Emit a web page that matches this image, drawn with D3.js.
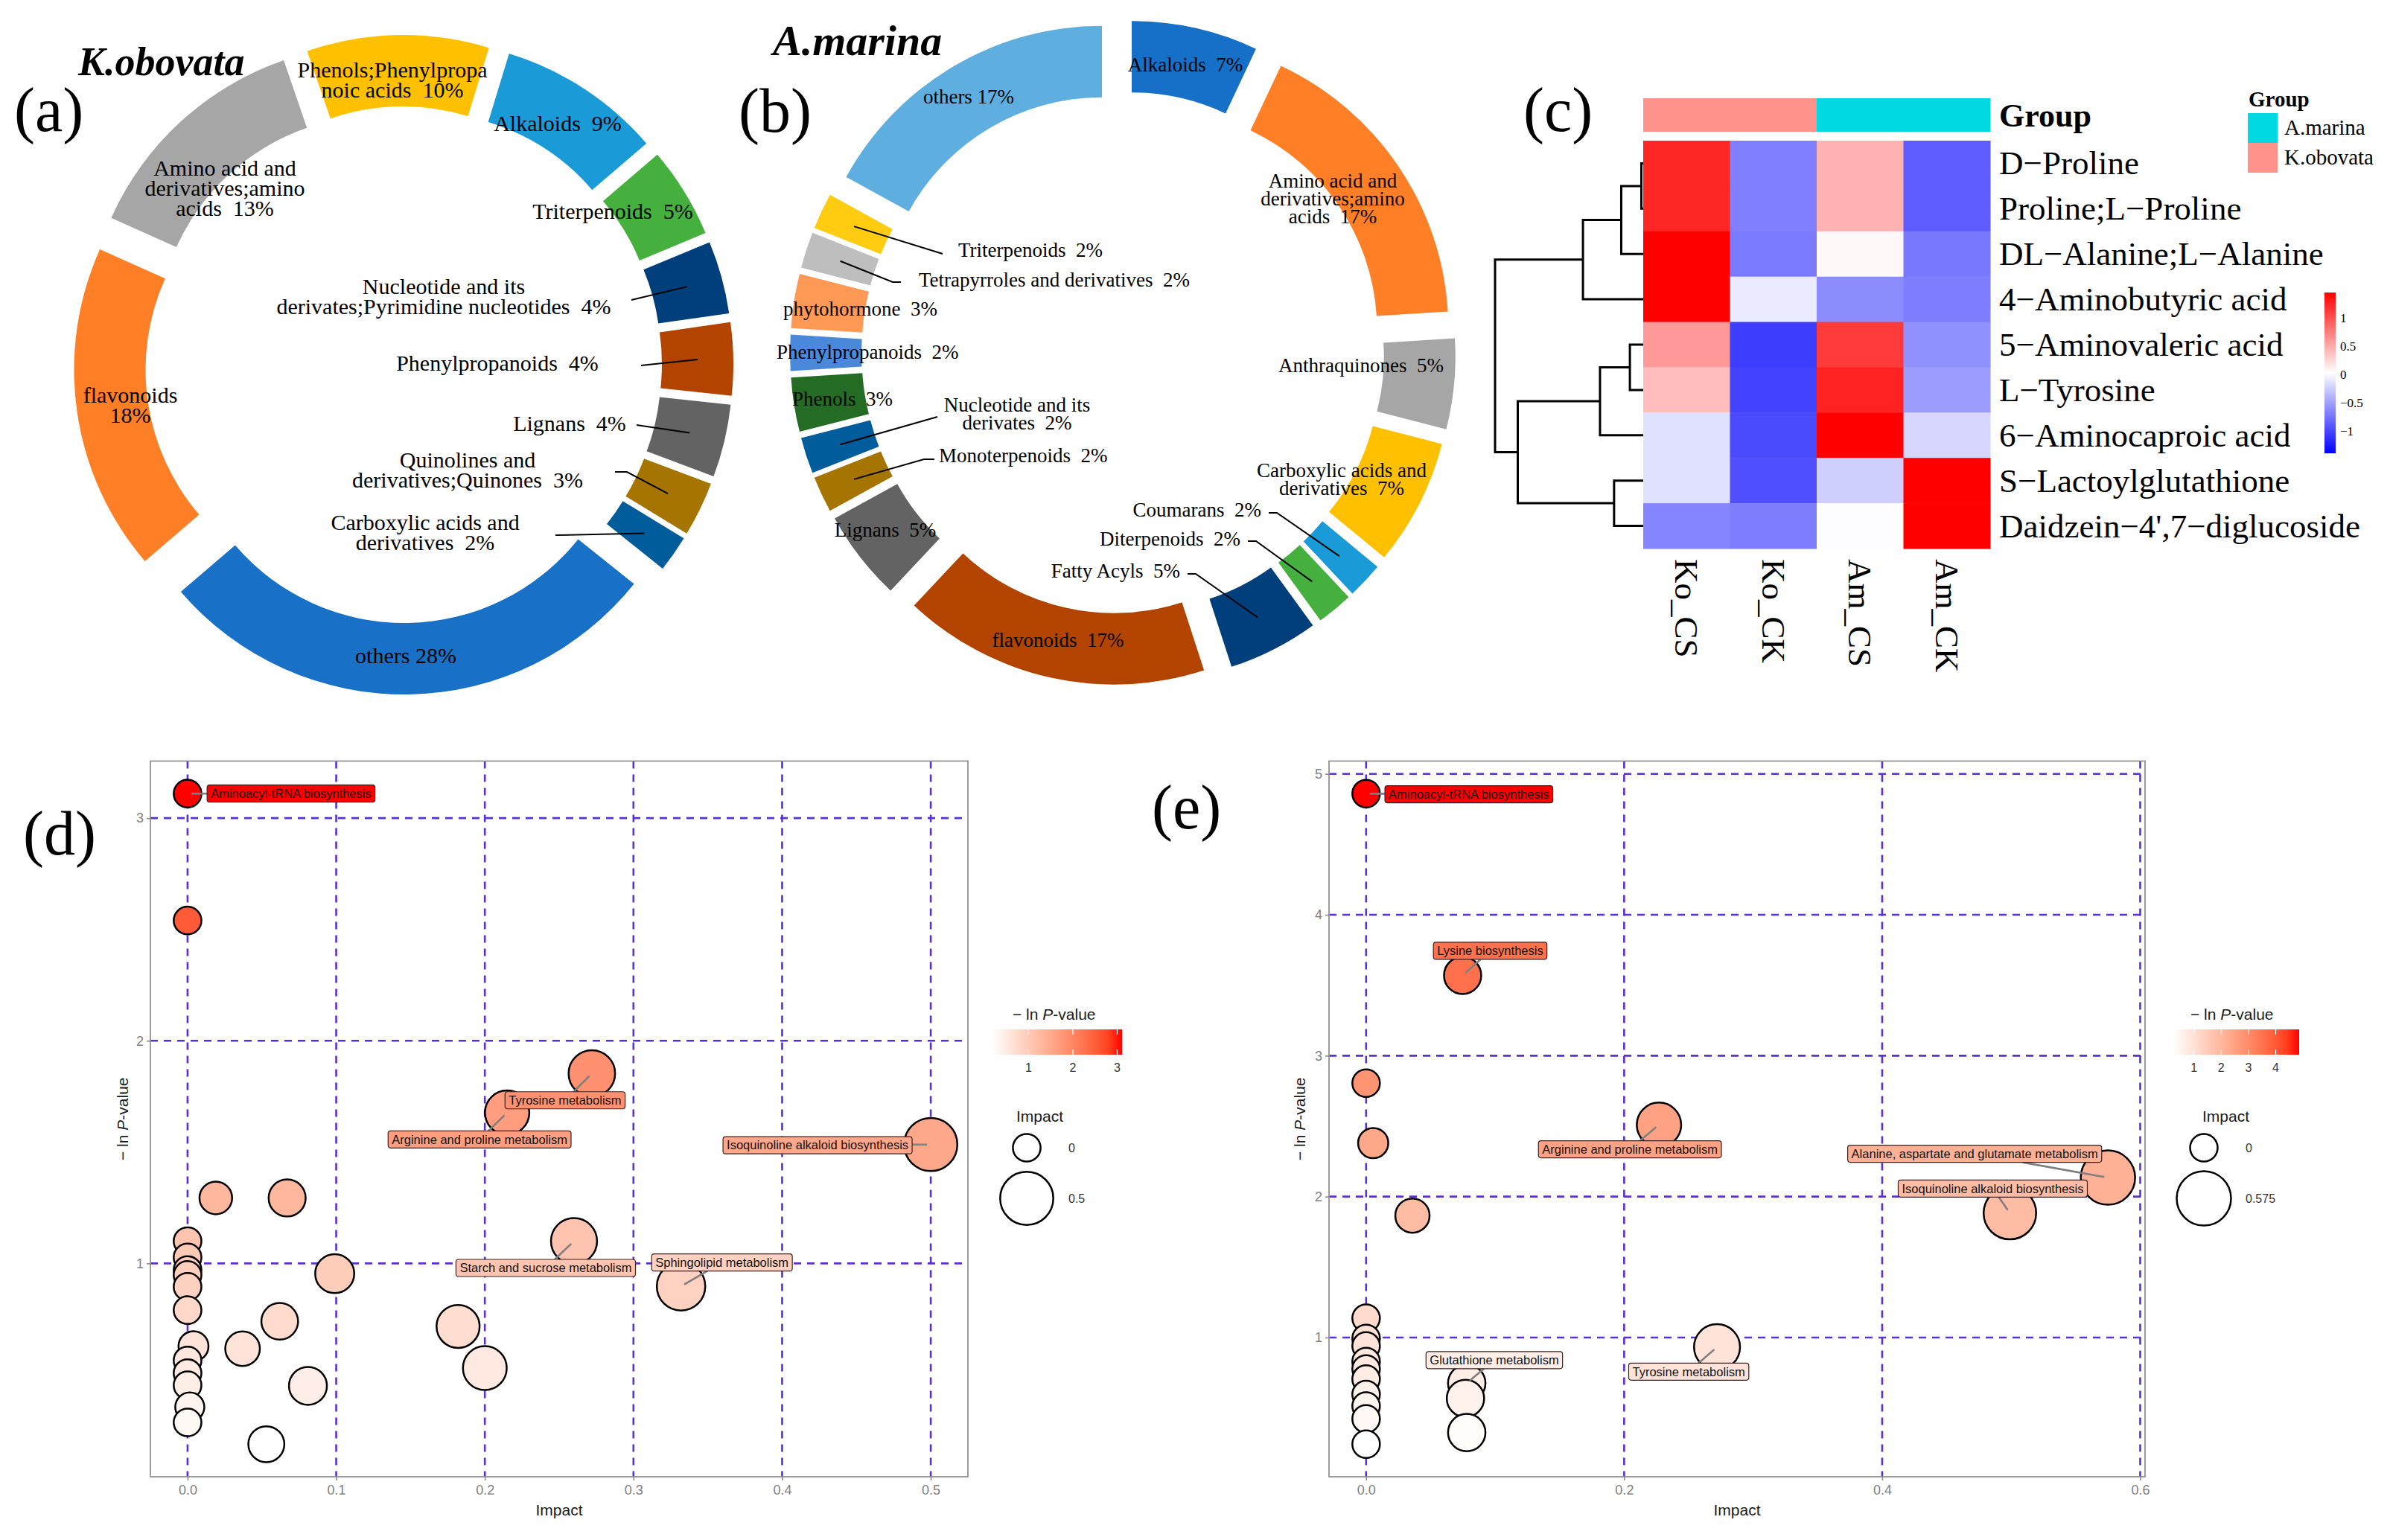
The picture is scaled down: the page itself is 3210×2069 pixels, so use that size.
<!DOCTYPE html>
<html>
<head>
<meta charset="utf-8">
<script src="https://cdn.jsdelivr.net/npm/d3@7"></script>
<style>
  html, body { margin: 0; padding: 0; background: #fff; }
  text { white-space: pre; }
</style>
</head>
<body>
<svg id="fig" width="3210" height="2069"></svg>
<script>
// ---------- (a) K.obovata classes (% of metabolites) ----------
const koClasses = ["Phenols;Phenylpropanoic acids", "Alkaloids", "Triterpenoids",
  "Nucleotide and its derivates;Pyrimidine nucleotides", "Phenylpropanoids", "Lignans",
  "Quinolines and derivatives;Quinones", "Carboxylic acids and derivatives", "others",
  "flavonoids", "Amino acid and derivatives;amino acids"];
const koPercent = [10, 9, 5, 4, 4, 4, 3, 2, 28, 18, 13];
const koLabelText = [
  ["Phenols;Phenylpropa", "noic acids  {p}%"],
  ["Alkaloids  {p}%"],
  ["Triterpenoids  {p}%"],
  ["Nucleotide and its", "derivates;Pyrimidine nucleotides  {p}%"],
  ["Phenylpropanoids  {p}%"],
  ["Lignans  {p}%"],
  ["Quinolines and", "derivatives;Quinones  {p}%"],
  ["Carboxylic acids and", "derivatives  {p}%"],
  ["others {p}%"],
  ["flavonoids", "{p}%"],
  ["Amino acid and", "derivatives;amino", "acids  {p}%"]
];

// ---------- (b) A.marina classes ----------
const amClasses = ["Alkaloids", "Amino acid and derivatives;amino acids", "Anthraquinones",
  "Carboxylic acids and derivatives", "Coumarans", "Diterpenoids", "Fatty Acyls", "flavonoids",
  "Lignans", "Monoterpenoids", "Nucleotide and its derivates", "Phenols", "Phenylpropanoids",
  "phytohormone", "Tetrapyrroles and derivatives", "Triterpenoids", "others"];
const amPercent = [7, 17, 5, 7, 2, 2, 5, 17, 5, 2, 2, 3, 2, 3, 2, 2, 17];
const amLabelText = [
  ["Alkaloids  {p}%"],
  ["Amino acid and", "derivatives;amino", "acids  {p}%"],
  ["Anthraquinones  {p}%"],
  ["Carboxylic acids and", "derivatives  {p}%"],
  ["Coumarans  {p}%"],
  ["Diterpenoids  {p}%"],
  ["Fatty Acyls  {p}%"],
  ["flavonoids  {p}%"],
  ["Lignans  {p}%"],
  ["Monoterpenoids  {p}%"],
  ["Nucleotide and its", "derivates  {p}%"],
  ["Phenols  {p}%"],
  ["Phenylpropanoids  {p}%"],
  ["phytohormone  {p}%"],
  ["Tetrapyrroles and derivatives  {p}%"],
  ["Triterpenoids  {p}%"],
  ["others {p}%"]
];

// ---------- (c) heatmap (row z-scores) ----------
const heatRows = ["D\u2212Proline", "Proline;L\u2212Proline", "DL\u2212Alanine;L\u2212Alanine",
  "4\u2212Aminobutyric acid", "5\u2212Aminovaleric acid", "L\u2212Tyrosine",
  "6\u2212Aminocaproic acid", "S\u2212Lactoylglutathione", "Daidzein\u22124',7\u2212diglucoside"];
const heatCols = ["Ko_CS", "Ko_CK", "Am_CS", "Am_CK"];
const heatColGroup = ["K.obovata", "K.obovata", "A.marina", "A.marina"];
const heatGroups = ["A.marina", "K.obovata"];
const heatValues = [
  [ 1.24, -0.68,  0.46, -0.88],
  [ 1.24, -0.68,  0.46, -0.88],
  [ 1.45, -0.71,  0.07, -0.72],
  [ 1.45, -0.08, -0.61, -0.69],
  [ 0.60, -1.05,  1.12, -0.59],
  [ 0.40, -1.02,  1.26, -0.52],
  [-0.14, -0.98,  1.45, -0.20],
  [-0.14, -0.95, -0.24,  1.45],
  [-0.65, -0.69,  0.02,  1.45]
];
const heatRange = [-1.39, 1.45];
const heatTicks = [1, 0.5, 0, -0.5, -1];
// row clustering (merge heights)
const rowTree = { h: 6.0, children: [
  { h: 2.44, children: [
    { h: 0.89, children: [ { h: 0.075, children: [ { leaf: 0 }, { leaf: 1 } ] }, { leaf: 2 } ] },
    { leaf: 3 } ] },
  { h: 5.08, children: [
    { h: 1.75, children: [ { h: 0.54, children: [ { leaf: 4 }, { leaf: 5 } ] }, { leaf: 6 } ] },
    { h: 1.18, children: [ { leaf: 7 }, { leaf: 8 } ] } ] }
] };

// ---------- (d) K.obovata pathway analysis ----------
const dImpact = [0, 0, 0.272, 0.215, 0.5, 0.019, 0.067, 0, 0, 0, 0, 0, 0, 0.26, 0.099, 0.332,
  0.062, 0.182, 0.004, 0.037, 0, 0, 0.2, 0, 0.081, 0.0015, 0, 0.053];
const dLnP = [3.11, 2.54, 1.853, 1.677, 1.534, 1.294, 1.294, 1.10, 1.027, 0.97, 0.948, 0.895, 0.79,
  1.10, 0.954, 0.897, 0.74, 0.717, 0.628, 0.617, 0.564, 0.507, 0.53, 0.453, 0.45, 0.355, 0.286, 0.188];
const dNames = ["Aminoacyl-tRNA biosynthesis", "", "Tyrosine metabolism", "Arginine and proline metabolism",
  "Isoquinoline alkaloid biosynthesis", "", "", "", "", "", "", "", "", "Starch and sucrose metabolism", "",
  "Sphingolipid metabolism", "", "", "", "", "", "", "", "", "", "", "", ""];
const dSizeBreaks = [0, 0.5];
const dColorTicks = [1, 2, 3];
const dXTicks = [0, 0.1, 0.2, 0.3, 0.4, 0.5];
const dYTicks = [1, 2, 3];

// ---------- (e) A.marina pathway analysis ----------
const eImpact = [0, 0.0748, 0, 0.0055, 0.227, 0.575, 0.499, 0.0359, 0, 0, 0, 0.272, 0, 0, 0, 0,
  0.078, 0.077, 0, 0, 0.078, 0];
const eLnP = [4.86, 3.57, 2.805, 2.38, 2.51, 2.135, 1.883, 1.865, 1.137, 0.993, 0.94, 0.932, 0.83,
  0.777, 0.705, 0.596, 0.676, 0.568, 0.514, 0.423, 0.326, 0.243];
const eNames = ["Aminoacyl-tRNA biosynthesis", "Lysine biosynthesis", "", "", "Arginine and proline metabolism",
  "Alanine, aspartate and glutamate metabolism", "Isoquinoline alkaloid biosynthesis", "", "", "", "",
  "Tyrosine metabolism", "", "", "", "", "Glutathione metabolism", "", "", "", "", ""];
const eSizeBreaks = [0, 0.575];
const eColorTicks = [1, 2, 3, 4];
const eXTicks = [0, 0.2, 0.4, 0.6];
const eYTicks = [1, 2, 3, 4, 5];

// ---------- styles ----------
const serif = "'Liberation Serif', 'Times New Roman', serif";
const sans = "'Liberation Sans', Arial, sans-serif";
const koColors = ["#FFC000", "#1A9BD7", "#45B03D", "#003F7B", "#B34400", "#636363", "#A67400",
  "#005C9A", "#1971C7", "#FF7F27", "#A6A6A6"];
const amColors = ["#1670C8", "#FF7F27", "#A6A6A6", "#FFC000", "#1A9BD7", "#45B03D", "#003F7B",
  "#B34400", "#636363", "#A67400", "#005C9A", "#246C24", "#4A89DA", "#FF9955", "#BEBEBE",
  "#FFCC11", "#5EAFE0"];
const groupColors = { "A.marina": "#00D9E1", "K.obovata": "#FF928A" };
const gridColor = "#5B30D5";

const svg = d3.select("#fig");
const defs = svg.append("defs");
svg.append("rect").attr("width", 3210).attr("height", 2069).attr("fill", "#fff");

// ---------- donuts ----------
const koLayout = {
  cx: 542, cy: 490, rOut: 395, rIn: 299, explode: 48, start: -19, fontSize: 30, lineH: 27,
  labels: [
    { at: [-15, -386] }, { at: [207, -314] }, { at: [281, -196] },
    { at: [54, -95], leader: [[306, -87]] },
    { at: [126, 8], leader: [[319, 1]] },
    { at: [223, 89], leader: [[313, 81]] },
    { at: [86, 138], leader: [[284, 144], [300, 144]] },
    { at: [29, 222], leader: [[204, 229]] },
    { at: [3, 401] }, { at: [-367, 51] }, { at: [-240, -254] }
  ]
};
const amLayout = {
  cx: 1508, cy: 474, rOut: 392, rIn: 296, explode: 55, start: 0, fontSize: 27, lineH: 24,
  labels: [
    { at: [84, -378] }, { at: [282, -222] }, { at: [320, 26] }, { at: [294, 167] },
    { at: [186, 220], anchor: "end", leader: [[196, 215], [207, 215]] },
    { at: [158, 259], anchor: "end", leader: [[168, 253], [179, 253]] },
    { at: [77, 302], anchor: "end", leader: [[87, 297], [98, 297]] },
    { at: [-87, 395] }, { at: [-319, 247] },
    { at: [-247, 147], anchor: "start", leader: [[-253, 143], [-267, 143]] },
    { at: [-142, 79], leader: [[-249, 86]] },
    { at: [-444, 71], anchor: "start" },
    { at: [-465, 8], anchor: "start" },
    { at: [-456, -50], anchor: "start" },
    { at: [-274, -89], anchor: "start", leader: [[-298, -95], [-309, -95]] },
    { at: [-221, -129], anchor: "start", leader: [[-242, -133]] },
    { at: [-207, -335] }
  ]
};

function drawDonut(values, colors, labelText, L) {
  const a0 = L.start * Math.PI / 180;
  const arcs = d3.pie().sort(null).value(d => d).startAngle(a0).endAngle(a0 + 2 * Math.PI)(values);
  const arc = d3.arc().innerRadius(L.rIn).outerRadius(L.rOut);
  const shift = a => {
    const m = (a.startAngle + a.endAngle) / 2;
    return [Math.sin(m) * L.explode, -Math.cos(m) * L.explode];
  };
  const g = svg.append("g").attr("transform", `translate(${L.cx},${L.cy})`);
  g.selectAll("path.slice").data(arcs).join("path")
    .attr("class", "slice")
    .attr("d", arc)
    .attr("fill", (d, i) => colors[i])
    .attr("transform", d => `translate(${shift(d)})`);

  arcs.forEach((a, i) => {
    const lab = L.labels[i];
    if (!lab.leader) return;
    const c = arc.centroid(a), s = shift(a);
    g.append("path")
      .attr("d", d3.line()([...lab.leader, [c[0] + s[0], c[1] + s[1]]]))
      .attr("fill", "none").attr("stroke", "#000").attr("stroke-width", 2);
  });

  L.labels.forEach((lab, i) => {
    const t = g.append("text")
      .attr("text-anchor", lab.anchor || "middle")
      .attr("font-family", serif).attr("font-size", L.fontSize).attr("fill", "#000");
    labelText[i].forEach((s, j) => {
      t.append("tspan").attr("x", lab.at[0]).attr("y", lab.at[1] + j * L.lineH)
        .text(s.replace("{p}", values[i]));
    });
  });
}
drawDonut(koPercent, koColors, koLabelText, koLayout);
drawDonut(amPercent, amColors, amLabelText, amLayout);

svg.append("text").attr("x", 105).attr("y", 101).attr("font-family", serif)
  .attr("font-size", 54).attr("font-weight", "bold").attr("font-style", "italic").text("K.obovata");
svg.append("text").attr("x", 1038).attr("y", 74).attr("font-family", serif)
  .attr("font-size", 58).attr("font-weight", "bold").attr("font-style", "italic").text("A.marina");

// ---------- panel letters ----------
[["(a)", 19, 176], ["(b)", 992, 177], ["(c)", 2046, 176], ["(d)", 31, 1148], ["(e)", 1547, 1113]]
  .forEach(([s, x, y]) => svg.append("text").attr("x", x).attr("y", y)
    .attr("font-family", serif).attr("font-size", 84).text(s));

// ---------- (c) heatmap ----------
(function () {
  const hm = { left: 2207, right: 2673, top: 189, bottom: 737, barTop: 132, barBottom: 177, dendLeft: 2008 };
  const xh = d3.scaleBand().domain(heatCols).range([hm.left, hm.right]);
  const yh = d3.scaleBand().domain(heatRows).range([hm.top, hm.bottom]);
  const mid = d3.mean(heatRange);
  const color = d3.scaleLinear().domain([heatRange[0], mid, heatRange[1]])
    .range(["#0000ff", "#ffffff", "#ff0000"]);
  const g = svg.append("g");

  // group annotation bar
  g.selectAll("rect.grp").data(heatCols).join("rect").attr("class", "grp")
    .attr("x", d => xh(d)).attr("y", hm.barTop)
    .attr("width", xh.bandwidth() + 0.5).attr("height", hm.barBottom - hm.barTop)
    .attr("fill", (d, i) => groupColors[heatColGroup[i]]);
  g.append("text").attr("x", hm.right + 12).attr("y", (hm.barTop + hm.barBottom) / 2 + 15)
    .attr("font-family", serif).attr("font-size", 44).attr("font-weight", "bold").text("Group");

  // cells
  heatValues.forEach((row, i) => {
    row.forEach((v, j) => {
      g.append("rect")
        .attr("x", xh(heatCols[j])).attr("y", yh(heatRows[i]))
        .attr("width", xh.bandwidth() + 0.5).attr("height", yh.bandwidth() + 0.5)
        .attr("fill", color(v));
    });
  });

  // row labels
  g.selectAll("text.row").data(heatRows).join("text").attr("class", "row")
    .attr("x", hm.right + 12).attr("y", d => yh(d) + yh.bandwidth() / 2 + 15)
    .attr("font-family", serif).attr("font-size", 45).text(d => d);

  // column labels (rotated)
  g.selectAll("text.col").data(heatCols).join("text").attr("class", "col")
    .attr("transform", d => `translate(${xh(d) + xh.bandwidth() / 2 - 15},${hm.bottom + 14}) rotate(90)`)
    .attr("font-family", serif).attr("font-size", 45).text(d => d);

  // dendrogram
  const dx = d3.scaleLinear().domain([0, rowTree.h]).range([hm.left, hm.dendLeft]);
  const root = d3.hierarchy(rowTree);
  root.eachAfter(n => {
    if (!n.children) { n.py = yh(heatRows[n.data.leaf]) + yh.bandwidth() / 2; n.hh = 0; }
    else { n.py = d3.mean(n.children, c => c.py); n.hh = n.data.h; }
  });
  root.each(n => {
    if (!n.children) return;
    const [c1, c2] = n.children;
    const p = d3.path();
    p.moveTo(dx(c1.hh), c1.py); p.lineTo(dx(n.hh), c1.py);
    p.lineTo(dx(n.hh), c2.py); p.lineTo(dx(c2.hh), c2.py);
    g.append("path").attr("d", p.toString()).attr("fill", "none")
      .attr("stroke", "#000").attr("stroke-width", 3);
  });

  // group legend
  g.append("text").attr("x", 3020).attr("y", 143).attr("font-family", serif)
    .attr("font-size", 29).attr("font-weight", "bold").text("Group");
  heatGroups.forEach((k, i) => {
    g.append("rect").attr("x", 3019).attr("y", 152 + i * 40).attr("width", 40).attr("height", 40)
      .attr("fill", groupColors[k]);
    g.append("text").attr("x", 3068).attr("y", 181 + i * 40).attr("font-family", serif)
      .attr("font-size", 29).text(k);
  });

  // colour bar
  const cb = { x: 3122, w: 15, top: 393, bottom: 609 };
  const grad = defs.append("linearGradient").attr("id", "heatGrad")
    .attr("x1", 0).attr("y1", 1).attr("x2", 0).attr("y2", 0);
  [heatRange[0], mid, heatRange[1]].forEach((v, i) =>
    grad.append("stop").attr("offset", i / 2).attr("stop-color", color(v)));
  g.append("rect").attr("x", cb.x).attr("y", cb.top).attr("width", cb.w)
    .attr("height", cb.bottom - cb.top).attr("fill", "url(#heatGrad)");
  const cy = d3.scaleLinear().domain(heatRange).range([cb.bottom, cb.top]);
  g.selectAll("text.cbt").data(heatTicks).join("text").attr("class", "cbt")
    .attr("x", cb.x + cb.w + 6).attr("y", d => cy(d)).attr("dy", "0.35em")
    .attr("font-family", serif).attr("font-size", 17)
    .text(d => (d < 0 ? "\u2212" : "") + Math.abs(d));
})();

// ---------- (d), (e) bubble plots ----------
const dLayout = {
  id: "d", left: 202, right: 1300, top: 1022.5, bottom: 1984, rMin: 18.6, rMax: 35.7,
  xTitleY: 2036, yTitleX: 172,
  legend: { titleX: 1360, titleY: 1370, barX: 1333, barW: 174, barY: 1383, barH: 34,
            sizeTitleX: 1365, sizeTitleY: 1507, circleX: 1379, circleY: [1542, 1610], labelX: 1435 },
  offsets: {
    "Aminoacyl-tRNA biosynthesis": [139, 0],
    "Tyrosine metabolism": [-36, 36],
    "Arginine and proline metabolism": [-37, 36],
    "Isoquinoline alkaloid biosynthesis": [-152, 1],
    "Starch and sucrose metabolism": [-38, 36],
    "Sphingolipid metabolism": [55, -32]
  }
};
const eLayout = {
  id: "e", left: 1785, right: 2881, top: 1022.5, bottom: 1984, rMin: 18.5, rMax: 36.5,
  xTitleY: 2036, yTitleX: 1753,
  legend: { titleX: 2942, titleY: 1370, barX: 2919, barW: 169, barY: 1383, barH: 34,
            sizeTitleX: 2958, sizeTitleY: 1507, circleX: 2960, circleY: [1542, 1610], labelX: 3016 },
  offsets: {
    "Aminoacyl-tRNA biosynthesis": [138, 1],
    "Lysine biosynthesis": [37, -33],
    "Arginine and proline metabolism": [-39, 33],
    "Alanine, aspartate and glutamate metabolism": [-179, -32],
    "Isoquinoline alkaloid biosynthesis": [-23, -33],
    "Glutathione metabolism": [37, -31],
    "Tyrosine metabolism": [-38, 33]
  }
};

function drawBubble(impact, lnp, names, xTicks, yTicks, sizeBreaks, colorTicks, L) {
  const g = svg.append("g");
  const xe = d3.extent(impact), ye = d3.extent(lnp);
  const xp = (xe[1] - xe[0]) * 0.05, yp = (ye[1] - ye[0]) * 0.05;
  const x = d3.scaleLinear().domain([xe[0] - xp, xe[1] + xp]).range([L.left, L.right]);
  const y = d3.scaleLinear().domain([ye[0] - yp, ye[1] + yp]).range([L.bottom, L.top]);
  const r = d3.scaleSqrt().domain([0, xe[1]]).range([L.rMin, L.rMax]);
  const fill = d3.scaleLinear().domain(ye).range(["#ffffff", "#ff0000"]).interpolate(d3.interpolateLab);

  // dashed grid
  g.append("g").selectAll("line").data(xTicks).join("line")
    .attr("x1", d => x(d)).attr("x2", d => x(d)).attr("y1", L.top).attr("y2", L.bottom)
    .attr("stroke", gridColor).attr("stroke-width", 2.6).attr("stroke-dasharray", "10,8");
  g.append("g").selectAll("line").data(yTicks).join("line")
    .attr("y1", d => y(d)).attr("y2", d => y(d)).attr("x1", L.left).attr("x2", L.right)
    .attr("stroke", gridColor).attr("stroke-width", 2.6).attr("stroke-dasharray", "10,8");

  // axes
  const xa = g.append("g").attr("transform", `translate(0,${L.bottom})`)
    .call(d3.axisBottom(x).tickValues(xTicks).tickFormat(d3.format(".1f")).tickSize(5).tickPadding(6));
  const ya = g.append("g").attr("transform", `translate(${L.left},0)`)
    .call(d3.axisLeft(y).tickValues(yTicks).tickFormat(d3.format("d")).tickSize(5).tickPadding(4));
  [xa, ya].forEach(a => {
    a.select(".domain").remove();
    a.selectAll(".tick line").attr("stroke", "#8c8c8c").attr("stroke-width", 1.6);
    a.selectAll(".tick text").attr("fill", "#808080").attr("font-size", 18).attr("font-family", sans);
  });

  // points
  const idx = d3.range(impact.length);
  g.append("g").selectAll("circle").data(idx).join("circle")
    .attr("cx", i => x(impact[i])).attr("cy", i => y(lnp[i])).attr("r", i => r(impact[i]))
    .attr("fill", i => fill(lnp[i])).attr("stroke", "#000").attr("stroke-width", 2.5);

  // repel-style labels
  const segG = g.append("g"), labG = g.append("g");
  idx.filter(i => names[i]).forEach(i => {
    const px = x(impact[i]), py = y(lnp[i]);
    const off = L.offsets[names[i]];
    const cx = px + off[0], cy = py + off[1];
    const lg = labG.append("g");
    const box = lg.append("rect");
    const t = lg.append("text").attr("x", cx).attr("y", cy).attr("dy", "0.35em")
      .attr("text-anchor", "middle").attr("font-family", sans).attr("font-size", 16.5)
      .attr("fill", "#111").text(names[i]);
    const w = t.node().getComputedTextLength() + 10, h = 23;
    box.attr("x", cx - w / 2).attr("y", cy - h / 2).attr("width", w).attr("height", h)
      .attr("rx", 3.5).attr("fill", fill(lnp[i])).attr("stroke", "#3a2020").attr("stroke-width", 1.2);
    const ddx = px - cx, ddy = py - cy;
    const s = Math.min(ddx ? (w / 2) / Math.abs(ddx) : Infinity, ddy ? (h / 2) / Math.abs(ddy) : Infinity);
    const ex = cx + ddx * s, ey = cy + ddy * s;
    const len = Math.hypot(ex - px, ey - py) || 1;
    segG.append("line")
      .attr("x1", px + (ex - px) / len * 5).attr("y1", py + (ey - py) / len * 5)
      .attr("x2", ex).attr("y2", ey)
      .attr("stroke", "#7f7f7f").attr("stroke-width", 2.6);
  });

  // panel border
  g.append("rect").attr("x", L.left).attr("y", L.top)
    .attr("width", L.right - L.left).attr("height", L.bottom - L.top)
    .attr("fill", "none").attr("stroke", "#8c8c8c").attr("stroke-width", 1.7);

  // axis titles
  g.append("text").attr("x", (L.left + L.right) / 2).attr("y", L.xTitleY)
    .attr("text-anchor", "middle").attr("font-family", sans).attr("font-size", 21)
    .attr("fill", "#1a1a1a").text("Impact");
  const yt = g.append("text")
    .attr("transform", `translate(${L.yTitleX},${(L.top + L.bottom) / 2}) rotate(-90)`)
    .attr("text-anchor", "middle").attr("font-family", sans).attr("font-size", 21).attr("fill", "#1a1a1a");
  yt.append("tspan").text("\u2212 ln ");
  yt.append("tspan").attr("font-style", "italic").text("P");
  yt.append("tspan").text("-value");

  // legends
  const Lg = L.legend;
  const lt = g.append("text").attr("x", Lg.titleX).attr("y", Lg.titleY)
    .attr("font-family", sans).attr("font-size", 21).attr("fill", "#1a1a1a");
  lt.append("tspan").text("\u2212 ln ");
  lt.append("tspan").attr("font-style", "italic").text("P");
  lt.append("tspan").text("-value");
  const gid = "grad" + L.id;
  const grad = defs.append("linearGradient").attr("id", gid);
  d3.range(0, 1.0001, 0.1).forEach(t =>
    grad.append("stop").attr("offset", t).attr("stop-color", fill(ye[0] + t * (ye[1] - ye[0]))));
  g.append("rect").attr("x", Lg.barX).attr("y", Lg.barY).attr("width", Lg.barW).attr("height", Lg.barH)
    .attr("fill", `url(#${gid})`);
  const lx = d3.scaleLinear().domain(ye).range([Lg.barX, Lg.barX + Lg.barW]);
  colorTicks.forEach(v => {
    [[Lg.barY, Lg.barY + Lg.barH * 0.2], [Lg.barY + Lg.barH * 0.8, Lg.barY + Lg.barH]].forEach(([y1, y2]) =>
      g.append("line").attr("x1", lx(v)).attr("x2", lx(v)).attr("y1", y1).attr("y2", y2)
        .attr("stroke", "#fff").attr("stroke-width", 1.2));
    g.append("text").attr("x", lx(v)).attr("y", Lg.barY + Lg.barH + 23).attr("text-anchor", "middle")
      .attr("font-family", sans).attr("font-size", 16).attr("fill", "#333").text(v);
  });
  g.append("text").attr("x", Lg.sizeTitleX).attr("y", Lg.sizeTitleY)
    .attr("font-family", sans).attr("font-size", 21).attr("fill", "#1a1a1a").text("Impact");
  sizeBreaks.forEach((v, k) => {
    g.append("circle").attr("cx", Lg.circleX).attr("cy", Lg.circleY[k]).attr("r", r(v))
      .attr("fill", "#fff").attr("stroke", "#000").attr("stroke-width", 2.5);
    g.append("text").attr("x", Lg.labelX).attr("y", Lg.circleY[k]).attr("dy", "0.35em")
      .attr("font-family", sans).attr("font-size", 16).attr("fill", "#333").text(String(v));
  });
}
drawBubble(dImpact, dLnP, dNames, dXTicks, dYTicks, dSizeBreaks, dColorTicks, dLayout);
drawBubble(eImpact, eLnP, eNames, eXTicks, eYTicks, eSizeBreaks, eColorTicks, eLayout);
</script>
</body>
</html>
